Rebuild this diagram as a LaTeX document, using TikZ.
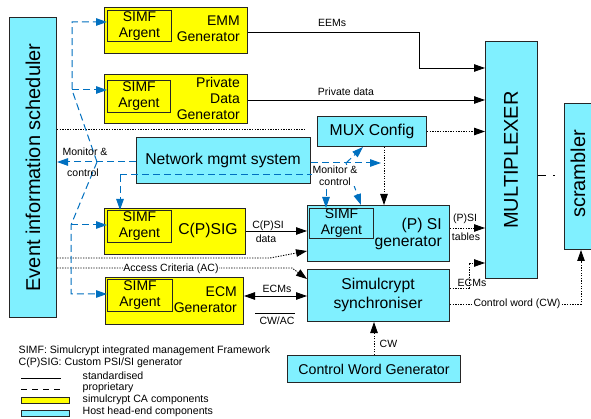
\documentclass[tikz,border=0pt]{standalone}
\usepackage{fontspec}
\setmainfont{Liberation Sans}
\usetikzlibrary{arrows.meta,calc}
\definecolor{caYellow}{RGB}{255,255,0}
\definecolor{hostCyan}{RGB}{128,240,255}
\definecolor{mgmtBlue}{RGB}{0,112,192}
\newcommand\lblfont{\fontsize{10.5}{11.5}\selectfont}
\newcommand\argfont{\fontsize{14}{16}\selectfont}
\newcommand\boxfont{\fontsize{15.7}{17}\selectfont}
\newcommand\bigfont{\fontsize{20}{22}\selectfont}
\begin{document}
\begin{tikzpicture}[x=1pt,y=-1pt,
  plainbox/.style={draw=black!85, line width=1pt, inner sep=0pt, anchor=north west},
  cabox/.style={plainbox, fill=caYellow},
  hostbox/.style={plainbox, fill=hostCyan},
  std/.style={line width=0.9pt, black},
  dotline/.style={line width=0.9pt, black, dash pattern=on 1.3pt off 1.3pt},
  mgmt/.style={mgmtBlue, line width=1pt, dash pattern=on 7pt off 4pt},
  arr/.style={-{Triangle[length=11pt,width=7.5pt]}},
  lbl/.style={font=\lblfont, inner sep=0.5pt},
  wlbl/.style={lbl, fill=white}]

\fill[white] (0,0) rectangle (591,419);
\useasboundingbox (0,0) rectangle (591,419);
\clip (0,0) rectangle (591,419);

% ---------- boxes ----------
\node[hostbox, minimum width=47pt, minimum height=300pt] (sched) at (9,17) {};
\node[rotate=90, font=\bigfont] (schedtxt) at (sched.center) {Event information scheduler};

\node[cabox, minimum width=143pt, minimum height=46pt] (emm) at (104,7) {};
\node[plainbox, minimum width=64pt, minimum height=31pt] (emmag) at (107,10) {};
\node[font=\argfont, align=center] (emmagtxt) at (emmag.center) {SIMF\\Argent};
\node[font=\argfont, align=right, anchor=east, inner sep=0pt] (emmtxt) at (240,29) {EMM\\Generator};

\node[cabox, minimum width=143pt, minimum height=49pt] (priv) at (104,74) {};
\node[plainbox, minimum width=63pt, minimum height=32pt] (privag) at (107,80) {};
\node[font=\argfont, align=center] (privagtxt) at (privag.center) {SIMF\\Argent};
\node[font=\argfont, align=right, anchor=east, inner sep=0pt] (privtxt) at (240,98) {Private\\Data\\Generator};

\node[hostbox, minimum width=174pt, minimum height=46pt] (nms) at (136,137) {};
\node[font=\boxfont] (nmstxt) at (223,160) {Network mgmt system};

\node[hostbox, minimum width=109pt, minimum height=30pt] (muxcfg) at (317,116) {};
\node[font=\boxfont] (muxcfgtxt) at (muxcfg.center) {MUX Config};

\node[hostbox, minimum width=52pt, minimum height=237pt] (mux) at (485,41) {};
\node[rotate=90, font=\bigfont] (muxtxt) at (511,160) {MULTIPLEXER};

\node[hostbox, minimum width=30pt, minimum height=146pt] (scr) at (564,103) {};
\node[rotate=90, font=\bigfont] (scrtxt) at (578,174) {scrambler};

\node[cabox, minimum width=141pt, minimum height=46pt] (cpsig) at (104,208) {};
\node[plainbox, minimum width=64pt, minimum height=32pt] (cpsigag) at (107,210) {};
\node[font=\argfont, align=center] (cpsigagtxt) at (cpsigag.center) {SIMF\\Argent};
\node[font=\boxfont] (cpsigtxt) at (208,230) {C(P)SIG};

\node[hostbox, minimum width=142pt, minimum height=56pt] (psi) at (307,205) {};
\node[plainbox, minimum width=64pt, minimum height=30pt] (psiag) at (309,208) {};
\node[font=\argfont, align=center] (psiagtxt) at (psiag.center) {SIMF\\Argent};
\node[font=\boxfont, align=right, anchor=east, inner sep=0pt] (psitxt) at (442,233.5) {(P) SI\\generator};

\node[hostbox, minimum width=142pt, minimum height=52pt] (sync) at (307,269) {};
\node[font=\fontsize{15.7}{19}\selectfont, align=center] (synctxt) at (378,295) {Simulcrypt\\synchroniser};

\node[cabox, minimum width=138pt, minimum height=47pt] (ecm) at (105,277) {};
\node[plainbox, minimum width=65pt, minimum height=32pt] (ecmag) at (107,279) {};
\node[font=\argfont, align=center] (ecmagtxt) at (ecmag.center) {SIMF\\Argent};
\node[font=\argfont, align=right, anchor=east, inner sep=0pt] (ecmtxt) at (237,300) {ECM\\Generator};

\node[hostbox, minimum width=173pt, minimum height=27pt] (cwg) at (287,355) {};
\node[font=\fontsize{14.2}{16}\selectfont] (cwgtxt) at (cwg.center) {Control Word Generator};

% ---------- standardised links ----------
\draw[std, arr] (emm.east |- 0,32) -| (419,68) -- (mux.west |- 0,68);
\node[lbl] (eemlbl) at (332,23) {EEMs};
\draw[std, arr] (priv.east |- 0,100) -- (mux.west |- 0,100);
\node[lbl] (privlbl) at (346,92) {Private data};

\draw[std, arr] (cpsig.east |- 0,231) -- (psi.west |- 0,231);
\node[lbl] (cpsilbl) at (268,226) {C(P)SI};
\node[lbl] (datalbl) at (266,239) {data};

\draw[std, {Triangle[length=11pt,width=7.5pt]}-{Triangle[length=11pt,width=7.5pt]}] (ecm.east |- 0,296) -- (sync.west |- 0,296);
\node[lbl] (ecmslbl) at (277,289) {ECMs};
\coordinate (cwacL) at (255,313);
\coordinate (cwacR) at (295,313);
\draw[std] (cwacL) -- (cwacR);
\node[lbl] (cwaclbl) at (277,320.5) {CW/AC};

\coordinate (scrIn) at (555,175);
\draw[std, dash pattern=on 8pt off 7pt on 1.5pt off 20pt] (mux.east |- scrIn) -- (scrIn);

% ---------- dotted links ----------
\coordinate (schedTop) at (306,129);
\draw[dotline] (sched.east |- schedTop) -- (schedTop);
\draw[dotline, arr] (muxcfg.east) -- (mux.west |- muxcfg.east);
\draw[dotline, arr] (muxcfg.south -| 384,0) -- (psi.north -| 384,0);
\draw[dotline, arr] (sched.east |- 0,258) -- (270,258) -- (psi.west |- 0,251);
\draw[dotline, arr] (sched.east |- 0,268) -- (292,268) -- (sync.west |- 0,279);
\node[wlbl] (aclbl) at (171,268.5) {Access Criteria (AC)};
\draw[dotline, arr] (psi.east |- 0,228) -- (mux.west |- 0,228);
\node[lbl] (psitlbl) at (465,219) {(P)SI};
\node[lbl] (tablbl) at (466,237) {tables};
\draw[dotline, arr] (sync.east |- 0,288) -| (469,263) -- (mux.west |- 0,263);
\node[lbl] (ecms2lbl) at (472,282.5) {ECMs};
\draw[dotline, arr] (sync.east |- 0,304) -| (scr.south -| 581,0);
\node[wlbl] (cwordlbl) at (517,304) {Control word (CW)};
\draw[dotline, arr] (cwg.north -| 374,0) -- (sync.south -| 374,0);
\node[lbl, anchor=west] (cwlbl) at (379,344) {CW};

% ---------- proprietary management links ----------
\coordinate (jl) at (97,162);
\draw[mgmt, arr] (nms.west |- jl) -- (sched.east |- jl);
\draw[mgmt, arr] (jl) -- (72,90) -- (72,22) -- (emmag.west |- 0,22);
\draw[mgmt, arr] (72,90) -- (privag.west |- 0,90);
\draw[mgmt, arr] (jl) -- (71,225) -- (71,294) -- (ecmag.west |- 0,294);
\draw[mgmt, arr] (71,225) -- (cpsigag.west |- 0,225);
\node[lbl] (monl) at (85,152) {Monitor \&};
\node[lbl] (conl) at (83,173) {control};

\coordinate (nmsTap) at (120,175);
\draw[mgmt, arr] (nmsTap) -- (cpsigag.north -| nmsTap);
\draw[mgmt, arr] (nmsTap) -- (326,175) -- (psiag.north -| 326,0);

\coordinate (jr) at (346,163);
\coordinate (mgmtOut) at (381,163);
\draw[mgmt, arr] (nms.east |- jr) -- (mgmtOut);
\draw[mgmt, arr] (jr) -- (muxcfg.south -| 363,0);
\draw[mgmt, arr] (jr) -- (psi.north -| 361,0);
\node[wlbl, align=center] (monr) at (335,175.5) {Monitor \&\\control};

% ---------- legend ----------
\node[lbl, anchor=west, font=\fontsize{10.6}{12}\selectfont] (leg1) at (18,351) {SIMF: Simulcrypt integrated management Framework};
\node[lbl, anchor=west, font=\fontsize{10.6}{12}\selectfont] (leg2) at (18,363) {C(P)SIG: Custom PSI/SI generator};
\coordinate (ls1) at (21,378); \coordinate (ls2) at (61,378);
\draw[std] (ls1) -- (ls2);
\node[lbl, anchor=west, font=\fontsize{10.6}{12}\selectfont] (leg3) at (82,376) {standardised};
\coordinate (lp1) at (21,389); \coordinate (lp2) at (61,389);
\draw[std, dash pattern=on 6pt off 5pt] (lp1) -- (lp2);
\node[lbl, anchor=west, font=\fontsize{10.6}{12}\selectfont] (leg4) at (82,388) {proprietary};
\draw[fill=caYellow, draw=black!85, line width=1pt] (21,397) rectangle (69,403);
\node[lbl, anchor=west, font=\fontsize{10.6}{12}\selectfont] (leg5) at (82,400) {simulcrypt CA components};
\draw[fill=hostCyan, draw=black!85, line width=1pt] (21,410) rectangle (69,416);
\node[lbl, anchor=west, font=\fontsize{10.6}{12}\selectfont] (leg6) at (82,412) {Host head-end components};
\end{tikzpicture}
\end{document}
